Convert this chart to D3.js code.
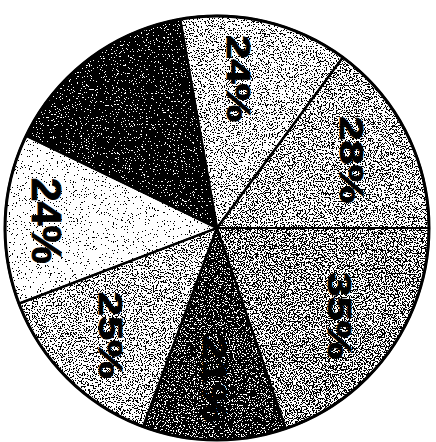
<!DOCTYPE html>
<html>
<head>
<meta charset="utf-8">
<script src="https://cdn.jsdelivr.net/npm/d3@7"></script>
<style>
  html, body { margin: 0; padding: 0; background: #fff; }
  svg { display: block; }
</style>
</head>
<body>
<div id="chart"></div>
<script>
// slice sizes (degrees), clockwise from the top slice
const sizes = [46.4, 53.6, 71.1, 39.3, 48.7, 46.7, 54.2];
// printed labels (the black slice carries no readable label)
const labels = ["24%", "28%", "35%", "21%", "25%", "24%", ""];
// grey shades of each slice
const shades = ["#bababa", "#a0a0a0", "#868686", "#404040", "#ababab", "#f2f2f2", "#141414"];

const width = 436;
const height = 442;
const cx = 217, cy = 228;
const radius = 212;

const svg = d3.select("#chart")
    .append("svg")
    .attr("width", width)
    .attr("height", height);

// scanned halftone look on the fills: threshold each pixel's grey against noise
const f = svg.append("defs").append("filter")
    .attr("id", "dither")
    .attr("filterUnits", "userSpaceOnUse")
    .attr("x", 0).attr("y", 0).attr("width", width).attr("height", height)
    .attr("color-interpolation-filters", "sRGB");
f.append("feTurbulence")
    .attr("type", "fractalNoise")
    .attr("baseFrequency", 0.75)
    .attr("numOctaves", 2)
    .attr("seed", 7)
    .attr("result", "n0");
f.append("feColorMatrix")
    .attr("in", "n0")
    .attr("type", "matrix")
    .attr("values", "-1 0 0 0 1  -1 0 0 0 1  -1 0 0 0 1  0 0 0 0 1")
    .attr("result", "n1");
const stretch = f.append("feComponentTransfer").attr("in", "n1").attr("result", "n2");
["R", "G", "B"].forEach(c => stretch.append("feFunc" + c)
    .attr("type", "linear").attr("slope", 2.6).attr("intercept", -0.8));
f.append("feComposite")
    .attr("in", "SourceGraphic")
    .attr("in2", "n2")
    .attr("operator", "arithmetic")
    .attr("k1", 0).attr("k2", 1).attr("k3", 0.96).attr("k4", -0.48)
    .attr("result", "d");
const thr = f.append("feComponentTransfer").attr("in", "d");
["R", "G", "B"].forEach(c => thr.append("feFunc" + c)
    .attr("type", "discrete").attr("tableValues", "0 1"));

const fills = svg.append("g").attr("filter", "url(#dither)");
fills.append("rect")
    .attr("width", width)
    .attr("height", height)
    .attr("fill", "#fff");

const start = -10 * Math.PI / 180;
const pie = d3.pie()
    .sort(null)
    .value(d => d)
    .startAngle(start)
    .endAngle(start + 2 * Math.PI);

const arcs = pie(sizes);
const arc = d3.arc().innerRadius(0).outerRadius(radius);

fills.append("g")
    .attr("transform", `translate(${cx},${cy})`)
    .selectAll("path")
    .data(arcs)
    .enter()
    .append("path")
    .attr("d", arc)
    .attr("fill", (d, i) => shades[i]);

// crisp lines and labels on top
const g = svg.append("g")
    .attr("transform", `translate(${cx},${cy})`);

g.selectAll("path.edge")
    .data(arcs)
    .enter()
    .append("path")
    .attr("class", "edge")
    .attr("d", arc)
    .attr("fill", "none")
    .attr("stroke", "#000")
    .attr("stroke-width", 2.2)
    .attr("stroke-linejoin", "round");

// outer rim
g.append("circle")
    .attr("r", radius)
    .attr("fill", "none")
    .attr("stroke", "#000")
    .attr("stroke-width", 3);

// label placement: the left white slice has a bigger label set further out,
// the top one sits a little left of its slice centre
function labelPos(d, i) {
    let a = (d.startAngle + d.endAngle) / 2;
    if (i === 0) a -= 5 * Math.PI / 180;
    const r = i === 5 ? 170 : 151;
    return [r * Math.sin(a), -r * Math.cos(a)];
}

g.selectAll("text.lbl")
    .data(arcs)
    .enter()
    .append("text")
    .attr("class", "lbl")
    .attr("transform", (d, i) => {
        const [x, y] = labelPos(d, i);
        const sx = i === 5 ? 1.0 : 1.28;
        return `translate(${x},${y}) rotate(90) scale(${sx},1)`;
    })
    .attr("text-anchor", "middle")
    .attr("dominant-baseline", "central")
    .attr("font-family", "Liberation Sans, Arial, sans-serif")
    .attr("font-weight", "bold")
    .attr("font-size", (d, i) => i === 5 ? 43 : 34)
    .attr("stroke", "#000")
    .attr("stroke-width", 0.8)
    .attr("fill", "#000")
    .text((d, i) => labels[i]);
</script>
</body>
</html>
